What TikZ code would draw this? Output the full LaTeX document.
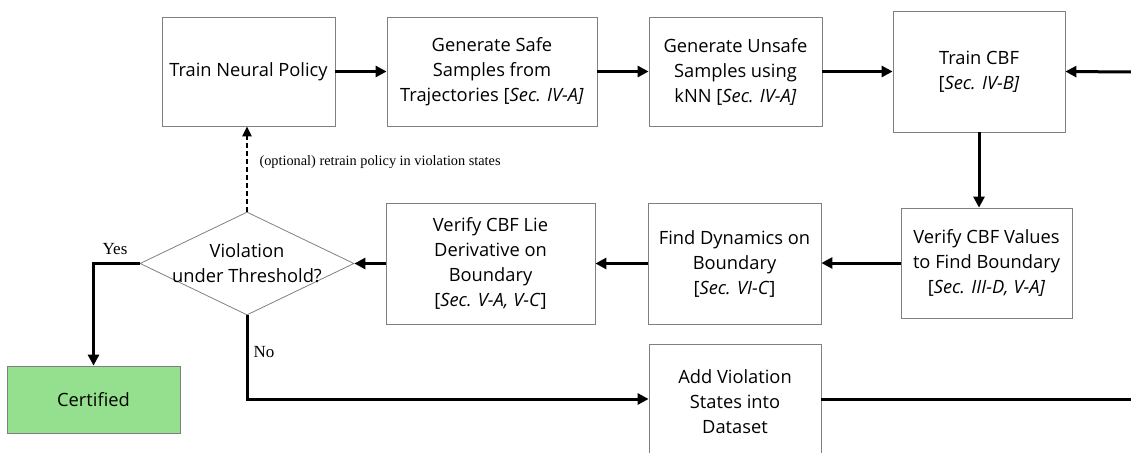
\documentclass[tikz,border=0pt]{standalone}
\usepackage{fontspec}
\setmainfont{Open Sans}
\newfontfamily\lblfont{Liberation Serif}
\usetikzlibrary{arrows.meta,calc,shapes.geometric}
\definecolor{boxgray}{RGB}{128,128,128}
\definecolor{certgreen}{RGB}{149,224,142}
\begin{document}
\begin{tikzpicture}[x=1pt,y=-1pt,
  box/.style={draw=boxgray,line width=0.8pt,rectangle,align=center,inner sep=2pt,
    font=\fontsize{18.3}{25}\selectfont},
  flow/.style={line width=3pt,-{Triangle[length=11pt,width=11pt]}},
  plain/.style={line width=3pt},
  opt/.style={line width=2.2pt,dash pattern=on 5pt off 3pt,-{Triangle[length=10pt,width=9pt]}},
  lbl/.style={font=\lblfont\fontsize{17}{18}\selectfont},
  smalllbl/.style={font=\lblfont\fontsize{14.3}{16}\selectfont}]
\useasboundingbox (0,0) rectangle (1131,452);
\begin{scope}
\clip (0,0) rectangle (1131,452);
\node[box,minimum width=173pt,minimum height=109pt] (tnp) at (248.5,71.5) {Train Neural Policy};
\node[box,minimum width=210pt,minimum height=109pt] (gss) at (492,71.5) {Generate Safe\\Samples from\\Trajectories [\textit{Sec. IV-A]}};
\node[box,minimum width=173pt,minimum height=109pt] (gus) at (735.5,71.5) {Generate Unsafe\\Samples using\\kNN [\textit{Sec. IV-A]}};
\node[box,minimum width=172pt,minimum height=121pt] (tcbf) at (979,71.5) {Train CBF\\{}[\textit{Sec. IV-B]}};
\node[box,minimum width=171pt,minimum height=110pt] (vcv) at (986.5,263) {Verify CBF Values\\to Find Boundary\\{}[\textit{Sec. III-D, V-A]}};
\node[box,minimum width=173pt,minimum height=121pt] (fdb) at (734.5,263.5) {Find Dynamics on\\Boundary\\{}[\textit{Sec. VI-C}]};
\node[box,minimum width=209pt,minimum height=121pt] (vld) at (490.5,263.5) {Verify CBF Lie\\Derivative on\\Boundary\\{}[\textit{Sec. V-A, V-C}]};
\node[draw=boxgray,line width=0.8pt,diamond,minimum width=214pt,minimum height=103pt,inner sep=0pt] (dia) at (247,263.5) {};
\node[align=center,font=\fontsize{18.3}{25}\selectfont] (diatext) at (dia.center) {Violation\\under Threshold?};
\node[box,fill=certgreen,minimum width=173pt,minimum height=67pt] (cert) at (93.5,399.5) {Certified};
\node[box,minimum width=172pt,minimum height=116pt] (adv) at (735,402) {Add Violation\\States into\\Dataset};
\coordinate (rin) at (1131,72);
\coordinate (rout) at (1131,399);
\coordinate (turn) at (247,399);
\draw[flow] (tnp.east) -- (gss.west);
\draw[flow] (gss.east) -- (gus.west);
\draw[flow] (gus.east) -- (tcbf.west);
\draw[flow] (rin) -- (tcbf.east);
\draw[flow] (tcbf.south) -- (tcbf.south |- vcv.north);
\draw[flow] (vcv.west) -- (vcv.west -| fdb.east);
\draw[flow] (fdb.west) -- (vld.east);
\draw[flow] (vld.west) -- (dia.east);
\draw[flow] (dia.west) -| (cert.north);
\draw[flow] (dia.south) -- (turn) -- (turn -| adv.west);
\draw[plain] (turn -| adv.east) -- (rout);
\draw[opt] (dia.north) -- (dia.north |- tnp.south);
\node[lbl,anchor=base] (yes) at (115,254) {Yes};
\node[lbl,anchor=base west] (no) at (250,357) {No};
\node[smalllbl,anchor=base west] (optlbl) at (256,165) {(optional) retrain policy in violation states};
\end{scope}
\end{tikzpicture}
\end{document}
